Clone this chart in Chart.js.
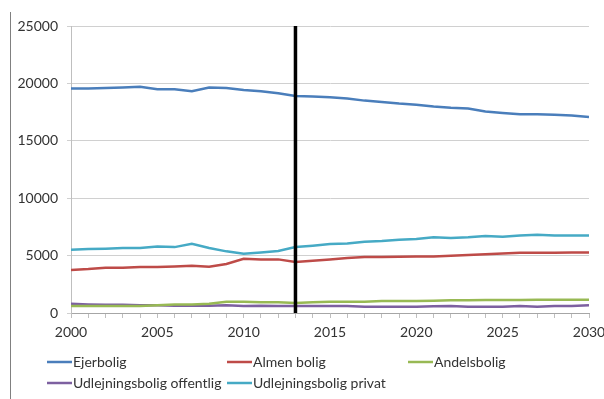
<!DOCTYPE html>
<html>
<head>
<meta charset="utf-8">
<script src="https://cdn.jsdelivr.net/npm/chart.js@4"></script>
<style>
  body { margin: 0; background: #fff; }
</style>
</head>
<body>
<canvas id="myChart" width="604" height="399"></canvas>
<script>
// years on the x axis
const years = [2000, 2001, 2002, 2003, 2004, 2005, 2006, 2007, 2008, 2009, 2010,
  2011, 2012, 2013, 2014, 2015, 2016, 2017, 2018, 2019, 2020,
  2021, 2022, 2023, 2024, 2025, 2026, 2027, 2028, 2029, 2030];

// series
const ejerbolig = [19550, 19550, 19600, 19650, 19700, 19490, 19490, 19320, 19650, 19600, 19430,
  19320, 19140, 18900, 18850, 18800, 18680, 18500, 18390, 18240, 18130,
  17980, 17870, 17810, 17550, 17430, 17320, 17320, 17260, 17200, 17080];
const almenBolig = [3750, 3830, 3950, 3950, 4000, 4000, 4060, 4120, 4030, 4270, 4730,
  4670, 4670, 4440, 4550, 4670, 4790, 4870, 4870, 4900, 4930,
  4930, 4990, 5050, 5110, 5190, 5250, 5250, 5250, 5280, 5280];
const andelsbolig = [600, 600, 600, 600, 600, 680, 750, 750, 800, 980, 980,
  930, 930, 870, 930, 980, 980, 980, 1040, 1040, 1040,
  1070, 1100, 1100, 1130, 1130, 1130, 1160, 1160, 1160, 1160];
const udlOffentlig = [810, 750, 720, 720, 670, 670, 640, 640, 640, 670, 610,
  640, 610, 610, 610, 610, 610, 550, 550, 550, 550,
  580, 610, 550, 550, 550, 610, 550, 610, 610, 670];
const udlPrivat = [5500, 5570, 5600, 5660, 5660, 5800, 5740, 6030, 5660, 5370, 5160,
  5280, 5400, 5740, 5860, 6000, 6060, 6210, 6270, 6380, 6440,
  6590, 6530, 6590, 6700, 6640, 6760, 6820, 6760, 6760, 6760];

// the vertical marker year
const markerYear = 2013;

// y axis ticks
const yTicks = [0, 5000, 10000, 15000, 20000, 25000];

const FONT = "Lato";
const TEXT = "#333333";

function toPoints(values) {
  return values.map((v, i) => ({ x: years[i], y: v }));
}

function series(label, values, color) {
  return {
    label: label,
    data: toPoints(values),
    borderColor: color,
    backgroundColor: color,
    borderWidth: 2.5,
    pointRadius: 0,
    tension: 0,
    order: 1,
  };
}

// legend drawn as a 3-column grid like the Excel original
const gridLegend = {
  id: "gridLegend",
  beforeDraw(chart) {
    const ctx = chart.ctx;
    ctx.save();
    ctx.strokeStyle = "#808080";
    ctx.lineWidth = 1;
    ctx.beginPath();
    ctx.moveTo(10.5, 12);
    ctx.lineTo(10.5, 399);
    ctx.stroke();
    ctx.restore();
  },
  afterDraw(chart) {
    const ctx = chart.ctx;
    const cols = [47, 227, 408];
    const rows = [362, 383];
    const items = chart.data.datasets.filter((d) => !d.isMarker);
    ctx.save();
    ctx.font = "14px " + FONT;
    ctx.textBaseline = "middle";
    ctx.fillStyle = TEXT;
    items.forEach((d, i) => {
      const x = cols[i % 3];
      const y = rows[Math.floor(i / 3)];
      ctx.strokeStyle = d.borderColor;
      ctx.lineWidth = 2.5;
      ctx.beginPath();
      ctx.moveTo(x, y);
      ctx.lineTo(x + 25, y);
      ctx.stroke();
      ctx.fillText(d.label, x + 26, y);
    });
    ctx.restore();
  },
};

new Chart("myChart", {
  type: "line",
  data: {
    datasets: [
      {
        label: "marker",
        isMarker: true,
        data: [{ x: markerYear, y: yTicks[0] }, { x: markerYear, y: yTicks[yTicks.length - 1] }],
        borderColor: "#000000",
        borderWidth: 3.5,
        pointRadius: 0,
        order: 0,
      },
      series("Ejerbolig", ejerbolig, "#4A7EBB"),
      series("Almen bolig", almenBolig, "#BE4B48"),
      series("Andelsbolig", andelsbolig, "#98B954"),
      series("Udlejningsbolig offentlig", udlOffentlig, "#7D60A0"),
      series("Udlejningsbolig privat", udlPrivat, "#46AAC5"),
    ],
  },
  options: {
    responsive: false,
    animation: false,
    layout: {
      padding: { left: 0, right: 15, top: 26, bottom: 56 },
    },
    scales: {
      x: {
        type: "linear",
        min: years[0],
        max: years[years.length - 1],
        grid: {
          drawOnChartArea: false,
          color: "#BFBFBF",
          tickLength: 5,
        },
        border: { color: "#A6A6A6" },
        ticks: {
          stepSize: 1,
          autoSkip: false,
          maxRotation: 0,
          padding: 6,
          color: TEXT,
          font: { family: FONT, size: 14 },
          callback: (v) => (v % 5 === 0 ? String(v) : ""),
        },
        afterFit(scale) {
          scale.height = 30;
          scale.paddingLeft = 0;
          scale.paddingRight = 0;
        },
      },
      y: {
        min: yTicks[0],
        max: yTicks[yTicks.length - 1],
        afterBuildTicks(scale) {
          scale.ticks = yTicks.map((v) => ({ value: v }));
        },
        grid: {
          color: "#D0D0D0",
          tickLength: 4,
        },
        border: { color: "#BFBFBF" },
        ticks: {
          padding: 9,
          color: TEXT,
          font: { family: FONT, size: 14 },
          callback: (v) => String(v),
        },
        afterFit(scale) {
          scale.width = 71;
          scale.paddingTop = 0;
          scale.paddingBottom = 0;
        },
      },
    },
    plugins: {
      legend: { display: false },
      tooltip: { enabled: false },
    },
  },
  plugins: [gridLegend],
});
</script>
</body>
</html>
